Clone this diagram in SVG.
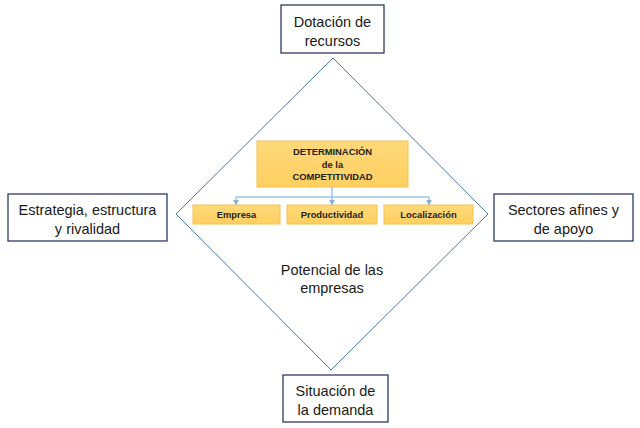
<svg xmlns="http://www.w3.org/2000/svg" width="640" height="428" viewBox="0 0 640 428">
<defs>
<style>
.box{fill:#ffffff;stroke:#2f3a66;stroke-width:1.3}
.lbl{font-family:"Liberation Sans",Arial,sans-serif;font-size:14.5px;fill:#1a1a1a;text-anchor:middle}
.org{fill:url(#og);stroke:#f2c14e;stroke-width:1}
.bold{font-family:"Liberation Sans",Arial,sans-serif;font-size:9.4px;font-weight:bold;fill:#222;text-anchor:middle}
.conn{fill:none;stroke:#9dc3e6;stroke-width:1.5}
.dia{fill:none;stroke:#4a78ad;stroke-width:1}
</style>
<linearGradient id="og" x1="0" y1="0" x2="0" y2="1">
<stop offset="0" stop-color="#ffd97a"/>
<stop offset="1" stop-color="#ffcf60"/>
</linearGradient>
<marker id="arr" viewBox="0 0 10 10" refX="9" refY="5" markerWidth="6" markerHeight="6" markerUnits="userSpaceOnUse" orient="auto">
<path d="M0,0 L10,5 L0,10 z" fill="#7fb0dd"/>
</marker>
</defs>
<rect width="640" height="428" fill="#ffffff"/>
<g id="diamond">
<polygon class="dia" points="333,58 488,214 331,370 176,214"/>
</g>
<g id="connectors">
<path class="conn" d="M332,187 V197"/>
<path class="conn" d="M236,197 H429"/>
<path class="conn" d="M236,197 V205" marker-end="url(#arr)"/>
<path class="conn" d="M332,197 V205" marker-end="url(#arr)"/>
<path class="conn" d="M429,197 V205" marker-end="url(#arr)"/>
</g>
<g id="dotacion">
<rect class="box" x="281" y="5" width="103" height="48"/>
<text class="lbl" x="332.5" y="27">Dotación de</text>
<text class="lbl" x="332.5" y="46">recursos</text>
</g>
<g id="estrategia">
<rect class="box" x="8" y="194" width="159" height="47"/>
<text class="lbl" x="87.5" y="215">Estrategia, estructura</text>
<text class="lbl" x="87.5" y="234">y rivalidad</text>
</g>
<g id="sectores">
<rect class="box" x="494" y="194" width="139" height="47"/>
<text class="lbl" x="563.5" y="215">Sectores afines y</text>
<text class="lbl" x="563.5" y="234">de apoyo</text>
</g>
<g id="situacion">
<rect class="box" x="283" y="375" width="105" height="47"/>
<text class="lbl" x="335.5" y="396">Situación de</text>
<text class="lbl" x="335.5" y="415">la demanda</text>
</g>
<g id="potencial">
<text class="lbl" x="332" y="275">Potencial de las</text>
<text class="lbl" x="332" y="293">empresas</text>
</g>
<g id="determinacion">
<rect class="org" x="257" y="141" width="151" height="46"/>
<text class="bold" x="332.5" y="155">DETERMINACIÓN</text>
<text class="bold" x="332.5" y="167.5">de la</text>
<text class="bold" x="332.5" y="180">COMPETITIVIDAD</text>
</g>
<g id="empresa">
<rect class="org" x="193" y="205" width="87" height="19"/>
<text class="bold" x="236.5" y="218">Empresa</text>
</g>
<g id="productividad">
<rect class="org" x="287" y="205" width="90" height="19"/>
<text class="bold" x="332" y="218">Productividad</text>
</g>
<g id="localizacion">
<rect class="org" x="384" y="205" width="89" height="19"/>
<text class="bold" x="428.5" y="218">Localización</text>
</g>
</svg>
